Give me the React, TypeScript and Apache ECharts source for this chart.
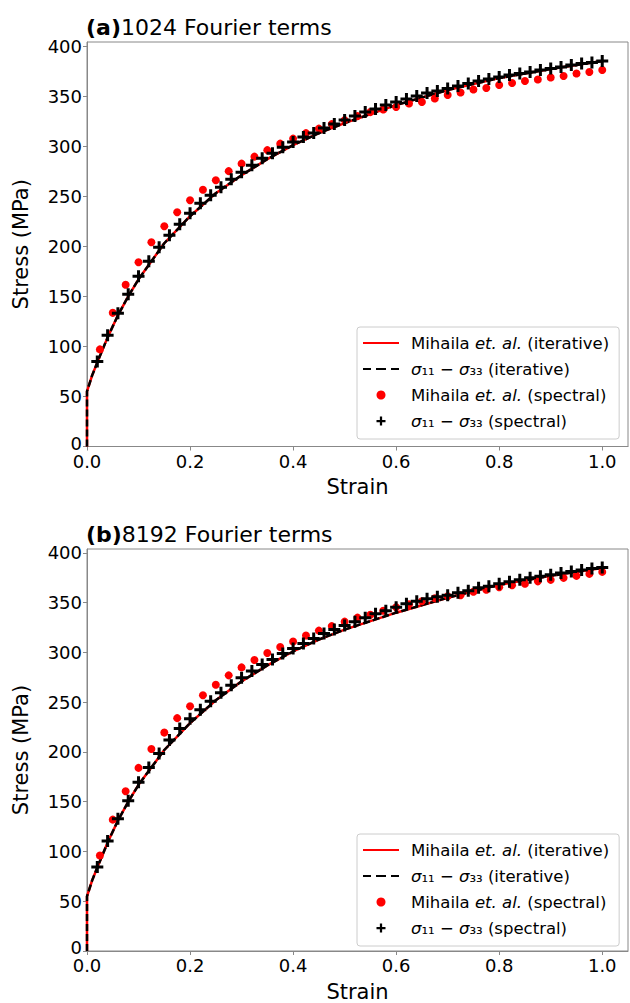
import React, { useEffect, useRef } from "react";
import * as echarts from "echarts";

// ---- data ----
const crossStrain = [0.02,0.04,0.06,0.08,0.10,0.12,0.14,0.16,0.18,0.20,0.22,0.24,0.26,0.28,0.30,0.32,0.34,0.36,0.38,0.40,0.42,0.44,0.46,0.48,0.50,0.52,0.54,0.56,0.58,0.60,0.62,0.64,0.66,0.68,0.70,0.72,0.74,0.76,0.78,0.80,0.82,0.84,0.86,0.88,0.90,0.92,0.94,0.96,0.98,1.00];
const dotStrain = [0.025,0.05,0.075,0.1,0.125,0.15,0.175,0.2,0.225,0.25,0.275,0.3,0.325,0.35,0.375,0.4,0.425,0.45,0.475,0.5,0.525,0.55,0.575,0.6,0.625,0.65,0.675,0.7,0.725,0.75,0.775,0.8,0.825,0.85,0.875,0.9,0.925,0.95,0.975,1.0];
const lineStrain = [0,0,0.01,0.02,0.04,0.06,0.08,0.1,0.15,0.2,0.25,0.3,0.35,0.4,0.45,0.5,0.6,0.7,0.8,0.9,1.0];

// panel (a) 1024 Fourier terms
const lineA = [0,55,71,84,109,131,150,167,203,230,253,271,287,301,313,323,341,356,368,377,385];
const crossA = [85,111,133,152,170,185,199,211,222,233,243,251,259,267,274,281,288,293,299,304,309,313,318,322,326,330,334,337,341,344,347,350,353,355,357.5,360,362.5,365,367,369,371,372.5,374,376,377.5,379,381,382.5,383.5,385];
const dotA = [97,133.5,161.5,184,204,220,234,246,256.5,266,275,282.5,289.5,296,302.5,307.5,313,317.5,322,326,330,334,336.5,339,342.5,344,347.5,351,353.5,356.5,358,361,363,365,366.5,368.5,370,372.5,374,376];

// panel (b) 8192 Fourier terms
const lineB = [0,55,71,84,109,131,150,167,202,229,252,271,287,301,313,323,340,355,368,377,385];
const crossB = [84.5,110.5,133,151,169.5,184.5,198.5,212,223.5,233.5,242.5,251,259.5,267,274.5,281.5,288,293,299,304,309,314,319,323,327,331,335,339,342,345.5,349,351.5,354,356,357.5,360,362,365,366.5,369,371,373,375,376.5,378,380,381.5,383,384.5,385.5];
const dotB = [96,132,160.5,184,203,219.5,234,246,257,267.5,277,285,292.5,299.5,305.5,311,317,322,326.5,331,335,338,342,345.5,348.5,351.5,354.5,356.5,357.5,361,363,365.5,367.5,369,371.5,373,375,377,379,381];

const xTicks = ["0.0", "0.2", "0.4", "0.6", "0.8", "1.0"];
const panelTags = ["(a)", "(b)"];
const panelTitles = ["1024 Fourier terms", "8192 Fourier terms"];
const seriesNames = ["mi", "si", "ms", "ss"];
const legendLabels: Record<string, string> = {
  mi: "Mihaila {i|et. al.} (iterative)",
  si: "{i|σ}₁₁ − {i|σ}₃₃ (iterative)",
  ms: "Mihaila {i|et. al.} (spectral)",
  ss: "{i|σ}₁₁ − {i|σ}₃₃ (spectral)",
};

const FONT = "DejaVu Sans";
const PLUS = "path://M3.75,0H6.25V3.75H10V6.25H6.25V10H3.75V6.25H0V3.75H3.75Z";
const SOLID_ICON = "path://M0,0H36V2.2H0Z";
const DASH_ICON = "path://M0,0H8V2.2H0Z M13,0H23V2.2H13Z M28,0H36V2.2H28Z";
const legendIcons: Record<string, string> = { mi: SOLID_ICON, si: DASH_ICON, ms: "circle", ss: PLUS };
const legendColors: Record<string, string> = { mi: "#ff0000", si: "#000", ms: "#ff0000", ss: "#000" };

const zip = (xs: number[], ys: number[]) => xs.map((x, i) => [x, ys[i]]);

export default function App() {
  const ref = useRef<HTMLDivElement>(null);
  useEffect(() => {
    if (!ref.current) return;
    const chart = echarts.init(ref.current, null, { renderer: "svg" });
    const grids = [
      { left: 87, right: 2, top: 42, height: 404.5 },
      { left: 87, right: 2, top: 549, height: 403.5 },
    ];
    const axisColor = "#888";
    const xAxes = grids.map((_, i) => ({
      type: "value",
      gridIndex: i,
      min: 0,
      max: 1.05,
      interval: 0.2,
      name: "Strain",
      nameLocation: "middle",
      nameGap: 30,
      nameTextStyle: { fontFamily: FONT, fontSize: 21, color: "#000" },
      axisLine: { show: true, lineStyle: { color: axisColor, width: 1 } },
      axisTick: { show: true, inside: false, length: 4, lineStyle: { color: axisColor } },
      axisLabel: {
        fontFamily: FONT, fontSize: 18, color: "#000", margin: 8, lineHeight: 13,
        showMaxLabel: false,
        formatter: (v: number) => xTicks[Math.round(v / 0.2)] ?? "",
      },
      splitLine: { show: false },
    }));
    const yAxes = grids.map((_, i) => ({
      type: "value",
      gridIndex: i,
      min: 0,
      max: 404,
      interval: 50,
      name: "Stress (MPa)",
      nameLocation: "middle",
      nameGap: 56,
      nameTextStyle: { fontFamily: FONT, fontSize: 21, color: "#000" },
      axisLine: { show: true, lineStyle: { color: axisColor, width: 1 } },
      axisTick: { show: true, inside: false, length: 4, lineStyle: { color: axisColor } },
      axisLabel: {
        fontFamily: FONT, fontSize: 18, color: "#000", margin: 5, lineHeight: 13, showMaxLabel: false,
        formatter: (v: number) => (v === 0 ? "{z|0}" : String(v)),
        rich: { z: { fontFamily: FONT, fontSize: 18, color: "#000", lineHeight: 13, padding: [0, 0, 7, 0] } },
      },
      splitLine: { show: false },
    }));
    const panels = [
      { line: lineA, cross: crossA, dot: dotA },
      { line: lineB, cross: crossB, dot: dotB },
    ];
    const series: any[] = [];
    panels.forEach((p, i) => {
      series.push({
        name: "mi", type: "line", xAxisIndex: i, yAxisIndex: i,
        data: zip(lineStrain, p.line), symbol: "none",
        lineStyle: { color: "#ff0000", width: 2.5 }, itemStyle: { color: "#ff0000" }, z: 2,
      });
      series.push({
        name: "si", type: "line", xAxisIndex: i, yAxisIndex: i,
        data: zip(lineStrain, p.line), symbol: "none",
        lineStyle: { color: "#000", width: 2.5, type: [7, 3] }, itemStyle: { color: "#000" }, z: 3,
      });
      series.push({
        name: "ms", type: "scatter", xAxisIndex: i, yAxisIndex: i,
        data: zip(dotStrain, p.dot), symbol: "circle", symbolSize: 8,
        itemStyle: { color: "#ff0000", opacity: 1 }, z: 4,
      });
      series.push({
        name: "ss", type: "scatter", xAxisIndex: i, yAxisIndex: i,
        data: zip(crossStrain, p.cross), symbol: PLUS, symbolSize: 12,
        itemStyle: { color: "#000", opacity: 1 }, z: 5,
      });
    });
    const legendTops = [327, 834];
    const legends = legendTops.map((top) => ({
      data: seriesNames.map((n) => ({ name: n, icon: legendIcons[n], itemStyle: { color: legendColors[n] } })),
      orient: "vertical",
      left: 357,
      top,
      itemWidth: 36,
      itemHeight: 9,
      itemGap: 8,
      padding: [7, 10, 9, 6],
      backgroundColor: "rgba(255,255,255,0.8)",
      borderColor: "#cccccc",
      borderWidth: 1,
      borderRadius: 3,
      selectedMode: false,
      formatter: (n: string) => legendLabels[n],
      textStyle: {
        fontFamily: FONT, fontSize: 16.5, color: "#000", padding: [0, 0, 0, 7], lineHeight: 18,
        rich: { i: { fontFamily: FONT, fontSize: 16.5, fontStyle: "italic", color: "#000", lineHeight: 18 } },
      },
    }));
    const titles = grids.map((g, i) => ({
      text: `{b|${panelTags[i]}}{n|${panelTitles[i]}}`,
      left: 86,
      top: g.top - 26,
      padding: 0,
      textStyle: {
        fontWeight: "normal",
        rich: {
          b: { fontFamily: FONT, fontSize: 22, fontWeight: "bold", color: "#000" },
          n: { fontFamily: FONT, fontSize: 22, fontWeight: "normal", color: "#000" },
        },
      },
    }));
    chart.setOption({
      animation: false,
      backgroundColor: "#fff",
      title: titles,
      grid: grids.map((g) => ({ ...g, show: true, borderColor: "#888", borderWidth: 1, containLabel: false })),
      xAxis: xAxes,
      yAxis: yAxes,
      legend: legends,
      series,
    });
    return () => chart.dispose();
  }, []);
  return (
    <div
      ref={ref}
      style={{ position: "absolute", left: 0, top: 0, width: 630, height: 1003, background: "#fff" }}
    />
  );
}
